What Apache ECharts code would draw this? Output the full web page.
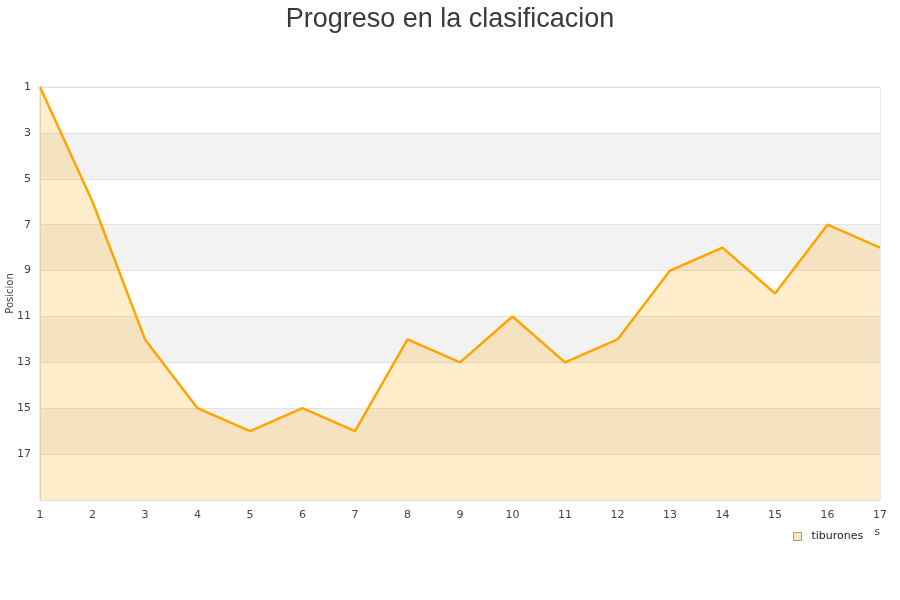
<!DOCTYPE html>
<html>
<head>
<meta charset="utf-8">
<script src="https://cdn.jsdelivr.net/npm/echarts@6/dist/echarts.min.js"></script>
<style>html,body{margin:0;padding:0;background:#fff}#c{width:900px;height:600px}</style>
</head>
<body>
<div id="c"></div>
<script>
var jornadas = [1,2,3,4,5,6,7,8,9,10,11,12,13,14,15,16,17];
var posiciones = [1,6,12,15,16,15,16,12,13,11,13,12,9,8,10,7,8];
var seriesName = 'tiburones';
var titleText = 'Progreso en la clasificacion';

var chart = echarts.init(document.getElementById('c'));
var data = jornadas.map(function(j, i){ return [j, posiciones[i] - 1]; });
chart.setOption({
  animation: false,
  backgroundColor: '#fff',
  title: {
    text: titleText, left: 'center', top: 1,
    textStyle: {fontFamily: 'Liberation Sans', fontSize: 27, fontWeight: 'normal', color: '#3a3a3a'}
  },
  grid: {left: 40, right: 20, top: 87, bottom: 100, containLabel: false, outerBoundsMode: 'none',
    show: true, borderColor: '#dcdcdc', borderWidth: 1, backgroundColor: 'transparent'},
  legend: {
    data: [{name: seriesName, icon: 'rect'}],
    left: 787, top: 527, orient: 'horizontal',
    backgroundColor: '#fff', padding: [4, 10, 4, 6],
    itemWidth: 8, itemHeight: 8, itemGap: 6,
    itemStyle: {color: '#fde8c4', borderColor: '#a89880', borderWidth: 1},
    textStyle: {fontFamily: 'DejaVu Sans', fontSize: 11, color: '#222', padding: [0, 0, 0, 5]},
    z: 10
  },
  xAxis: {
    type: 'value', min: 1, max: 17, interval: 1,
    name: 'Jornadas', nameLocation: 'end', nameGap: 0, nameMoveOverlap: false,
    nameTextStyle: {fontFamily: 'DejaVu Sans', fontSize: 11, color: '#444', align: 'right', verticalAlign: 'top', padding: [27, 0, 0, 0]},
    axisLine: {show: true, onZero: false, lineStyle: {color: '#dcdcdc'}},
    axisTick: {show: false},
    splitLine: {show: false},
    axisLabel: {fontFamily: 'DejaVu Sans', fontSize: 11, color: '#444', margin: 10}
  },
  yAxis: {
    type: 'value', inverse: true, min: 0, max: 18, interval: 2,
    name: 'Posicion', nameLocation: 'middle', nameGap: 25, nameRotate: 90, nameMoveOverlap: false,
    nameTextStyle: {fontFamily: 'DejaVu Sans', fontSize: 10, color: '#444'},
    axisLine: {show: true, onZero: false, lineStyle: {color: '#dcdcdc'}},
    axisTick: {show: false},
    axisLabel: {fontFamily: 'DejaVu Sans', fontSize: 11, color: '#444', margin: 9,
      formatter: function(v){ return v >= 18 ? '' : String(v + 1); }},
    splitLine: {show: true, lineStyle: {color: '#e2e2e2'}},
    splitArea: {show: true, areaStyle: {color: ['#ffffff', '#f2f2f2']}}
  },
  series: [{
    name: seriesName, type: 'line', data: data,
    showSymbol: false, symbol: 'none',
    lineStyle: {color: '#ffa500', width: 2.5},
    itemStyle: {color: '#ffa500'},
    areaStyle: {color: '#ffa500', opacity: 0.2, origin: 'end'}
  }]
});
</script>
</body>
</html>
